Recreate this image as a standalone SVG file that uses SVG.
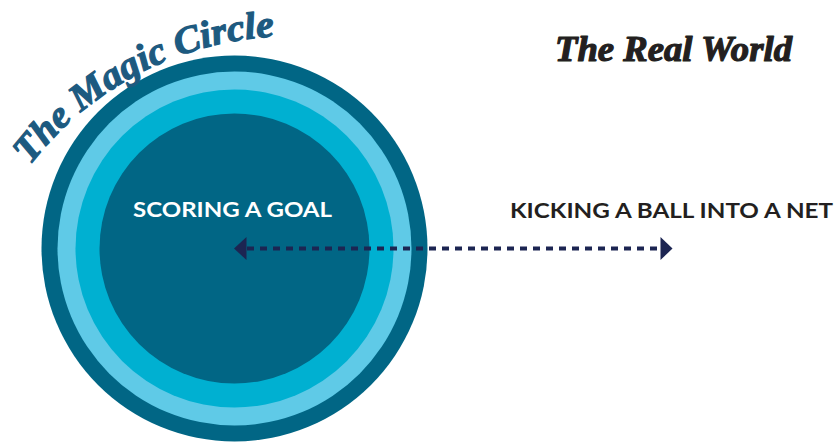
<svg xmlns="http://www.w3.org/2000/svg" width="839" height="442" viewBox="0 0 839 442">
  <style>
    .script { font-family: "Liberation Serif", "DejaVu Serif", serif; font-weight: bold; font-style: italic; stroke-width: 1.2; stroke-linejoin: round; }
    .label { font-family: "Lato", "Liberation Sans", sans-serif; font-weight: bold; font-size: 20px; }
    .conn { stroke: #1c2552; stroke-width: 4; stroke-dasharray: 7 6; fill: none; }
    .head { fill: #1c2552; }
  </style>
  <defs>
    <path id="titleArc" d="M 30 165.4 A 330 330 0 0 1 342 39.8"/>
  </defs>
  <rect width="839" height="442" fill="#ffffff"/>
  <g id="magic-circle">
    <circle cx="234.5" cy="248.5" r="193" fill="#016685"/>
    <circle cx="234.5" cy="248.5" r="177" fill="#5fcae7"/>
    <circle cx="234.5" cy="248.5" r="159" fill="#00b0d1"/>
    <circle cx="234.5" cy="248.5" r="135" fill="#016685"/>
    <text class="script" font-size="38" fill="#1d5a80" stroke="#1d5a80"><textPath href="#titleArc" textLength="285" lengthAdjust="spacingAndGlyphs">The Magic Circle</textPath></text>
  </g>
  <g id="scoring-goal">
    <text class="label" x="133" y="217" fill="#ffffff" textLength="199" lengthAdjust="spacingAndGlyphs">SCORING A GOAL</text>
  </g>
  <g id="real-world">
    <text class="script" x="555" y="61" font-size="36" fill="#231f20" stroke="#231f20" textLength="237" lengthAdjust="spacingAndGlyphs">The Real World</text>
  </g>
  <g id="kicking-ball">
    <text class="label" x="510" y="218" fill="#231f20" textLength="323" lengthAdjust="spacingAndGlyphs">KICKING A BALL INTO A NET</text>
  </g>
  <g id="connectors">
    <line class="conn" x1="247" y1="248.5" x2="660" y2="248.5"/>
    <polygon class="head" points="234,248.5 246.5,237 246.5,260"/>
    <polygon class="head" points="672.5,248.5 660.5,237 660.5,260"/>
  </g>
</svg>
